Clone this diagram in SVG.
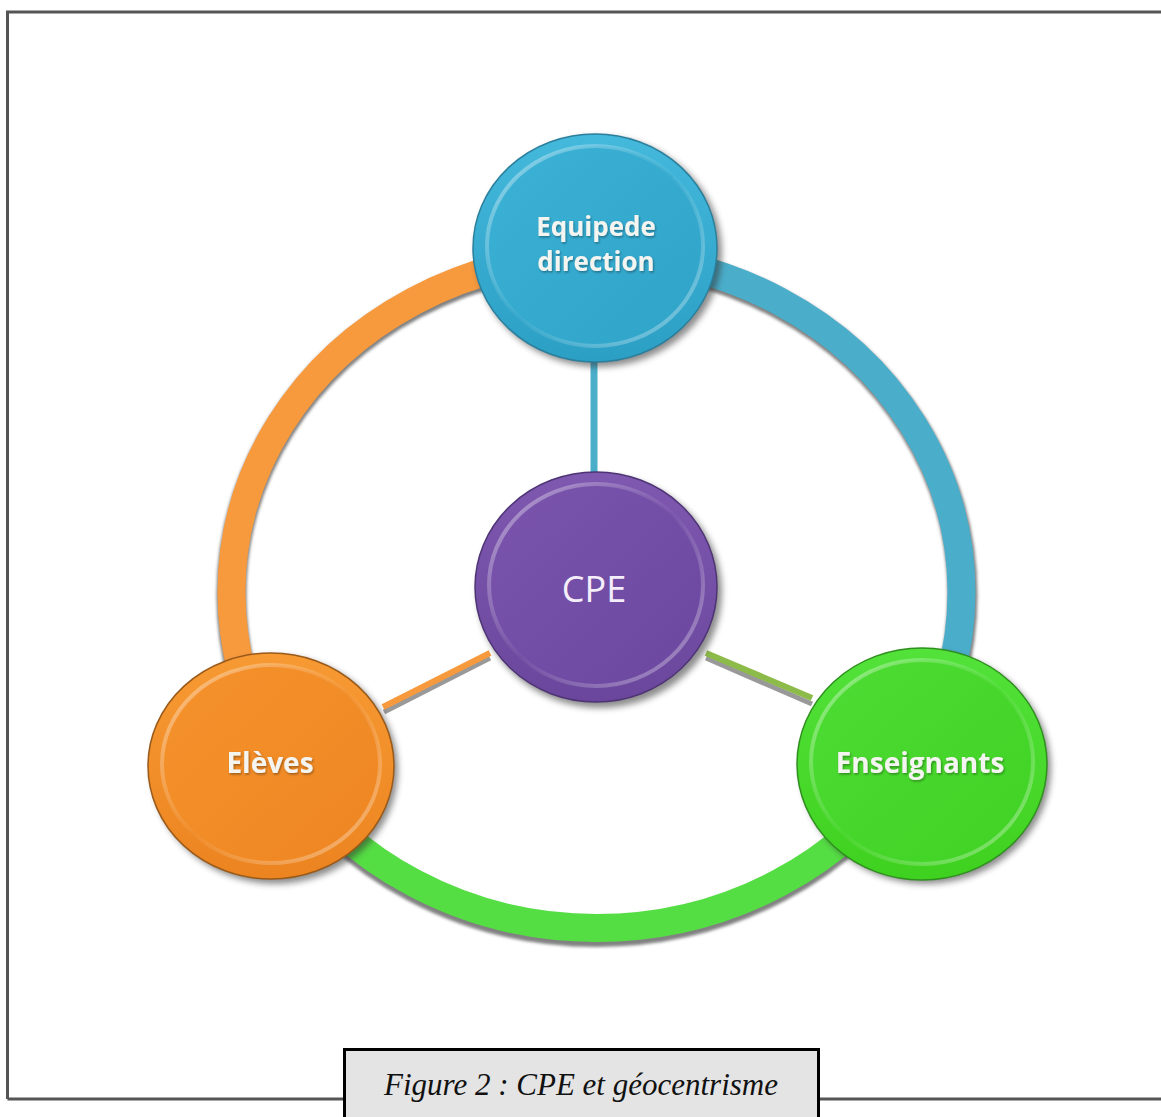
<svg xmlns="http://www.w3.org/2000/svg" width="1161" height="1117" viewBox="0 0 1161 1117">
<style>
.frame{fill:none;stroke:#555;stroke-width:3}
.band{fill:none;stroke-width:28;stroke-linecap:butt}
.bandsh{fill:none;stroke:#555;stroke-width:30;opacity:0.75}
.lbl{font-family:"Open Sans","DejaVu Sans",sans-serif;font-weight:bold;fill:#f4f4f0;text-anchor:middle}
.cap{font-family:"Liberation Serif","Times New Roman",serif;font-style:italic;font-size:31px;fill:#111;text-anchor:middle}
.shadow{fill:#333;opacity:0.55}
</style>
<defs>
<filter id="blur" x="-20%" y="-20%" width="140%" height="140%"><feGaussianBlur stdDeviation="3"/></filter>
<filter id="blur2" x="-20%" y="-20%" width="140%" height="140%"><feGaussianBlur stdDeviation="1.5"/></filter>
<filter id="tsh" x="-10%" y="-10%" width="120%" height="130%"><feDropShadow dx="1" dy="1.5" stdDeviation="1" flood-color="#000" flood-opacity="0.35"/></filter>
<linearGradient id="gBlue" x1="0" y1="0" x2="0" y2="1"><stop offset="0" stop-color="#44b9dc"/><stop offset="1" stop-color="#2c9fc4"/></linearGradient>
<linearGradient id="gBlueIn" x1="0" y1="0" x2="1" y2="1"><stop offset="0" stop-color="#3cb2d6"/><stop offset="1" stop-color="#2fa3c8"/></linearGradient>
<linearGradient id="gPur" x1="0" y1="0" x2="0" y2="1"><stop offset="0" stop-color="#7f58b0"/><stop offset="1" stop-color="#6a479c"/></linearGradient>
<linearGradient id="gPurIn" x1="0" y1="0" x2="1" y2="1"><stop offset="0" stop-color="#7b55ad"/><stop offset="1" stop-color="#6b479f"/></linearGradient>
<linearGradient id="gOr" x1="0" y1="0" x2="0" y2="1"><stop offset="0" stop-color="#f79a33"/><stop offset="1" stop-color="#ec8420"/></linearGradient>
<linearGradient id="gOrIn" x1="0" y1="0" x2="1" y2="1"><stop offset="0" stop-color="#f5922c"/><stop offset="1" stop-color="#ee8622"/></linearGradient>
<linearGradient id="gGr" x1="0" y1="0" x2="0" y2="1"><stop offset="0" stop-color="#52e23a"/><stop offset="1" stop-color="#3fd11f"/></linearGradient>
<linearGradient id="gGrIn" x1="0" y1="0" x2="1" y2="1"><stop offset="0" stop-color="#4edc34"/><stop offset="1" stop-color="#40d224"/></linearGradient>
<linearGradient id="hl" x1="0" y1="0" x2="1" y2="1"><stop offset="0" stop-color="#fff" stop-opacity="0.45"/><stop offset="0.5" stop-color="#fff" stop-opacity="0.03"/><stop offset="1" stop-color="#fff" stop-opacity="0.4"/></linearGradient>
</defs>
<rect width="1161" height="1117" fill="#fff"/>
<g id="frame">
<path class="frame" d="M7.5 1099 V12 H1161"/>
<path class="frame" d="M7.5 1099 H345 M819 1099 H1161"/>
</g>
<g id="connectors">
<g filter="url(#blur2)">
<path class="bandsh" d="M596.5 256 A365 336 0 0 0 280.4 760" transform="translate(0,3)"/>
<path class="bandsh" d="M596.5 256 A365 336 0 0 1 912.6 760" transform="translate(1,3)"/>
<path class="bandsh" d="M280.4 760 A365 336 0 0 0 912.6 760" transform="translate(0,4)"/>
</g>
<path class="band" stroke="#f79a3e" d="M596.5 256 A365 336 0 0 0 280.4 760"/>
<path class="band" stroke="#4aaecb" d="M596.5 256 A365 336 0 0 1 912.6 760"/>
<path class="band" stroke="#55dd44" d="M280.4 760 A365 336 0 0 0 912.6 760"/>
<line x1="594" y1="362" x2="594" y2="476" stroke="#4aaecb" stroke-width="7"/>
<line x1="384" y1="712" x2="490" y2="658" stroke="#999" stroke-width="5"/>
<line x1="383" y1="707" x2="490" y2="653" stroke="#f79a3e" stroke-width="6"/>
<line x1="706" y1="658" x2="812" y2="704" stroke="#999" stroke-width="5"/>
<line x1="706" y1="653" x2="812" y2="698" stroke="#8dbb4a" stroke-width="6"/>
</g>
<g id="node-direction">
<ellipse class="shadow" cx="599" cy="252" rx="123" ry="115" filter="url(#blur)"/>
<ellipse cx="595" cy="248" rx="122" ry="114" fill="url(#gBlue)" stroke="#2a7f9c" stroke-width="1.5"/>
<ellipse cx="595" cy="246" rx="108" ry="100" fill="url(#gBlueIn)" stroke="url(#hl)" stroke-width="4"/>
<text class="lbl" x="596" y="236" font-size="26" filter="url(#tsh)">Equipede</text>
<text class="lbl" x="596" y="271" font-size="26" filter="url(#tsh)">direction</text>
</g>
<g id="node-cpe">
<ellipse class="shadow" cx="600" cy="592" rx="122" ry="116" filter="url(#blur)"/>
<ellipse cx="596" cy="587" rx="121" ry="115" fill="url(#gPur)" stroke="#4e3475" stroke-width="1.5"/>
<ellipse cx="596" cy="585" rx="107" ry="101" fill="url(#gPurIn)" stroke="url(#hl)" stroke-width="4"/>
<text x="594" y="602" font-family="'Open Sans','DejaVu Sans',sans-serif" font-size="36" fill="#f4eefa" text-anchor="middle">CPE</text>
</g>
<g id="node-eleves">
<ellipse class="shadow" cx="275" cy="770" rx="123" ry="114" filter="url(#blur)"/>
<ellipse cx="271" cy="766" rx="123" ry="113" fill="url(#gOr)" stroke="#9a5a1a" stroke-width="1.5"/>
<ellipse cx="271" cy="764" rx="109" ry="99" fill="url(#gOrIn)" stroke="url(#hl)" stroke-width="4"/>
<text class="lbl" x="270" y="773" font-size="28" filter="url(#tsh)">Elèves</text>
</g>
<g id="node-enseignants">
<ellipse class="shadow" cx="926" cy="768" rx="125" ry="116" filter="url(#blur)"/>
<ellipse cx="922" cy="764" rx="125" ry="116" fill="url(#gGr)" stroke="#2f8f1f" stroke-width="1.5"/>
<ellipse cx="922" cy="762" rx="111" ry="102" fill="url(#gGrIn)" stroke="url(#hl)" stroke-width="4"/>
<text class="lbl" x="920" y="773" font-size="28" filter="url(#tsh)">Enseignants</text>
</g>
<g id="caption">
<rect x="344.5" y="1049.5" width="474" height="72" fill="#e4e4e4" stroke="#000" stroke-width="3"/>
<text class="cap" x="581" y="1095">Figure 2 : CPE et géocentrisme</text>
</g>
</svg>
